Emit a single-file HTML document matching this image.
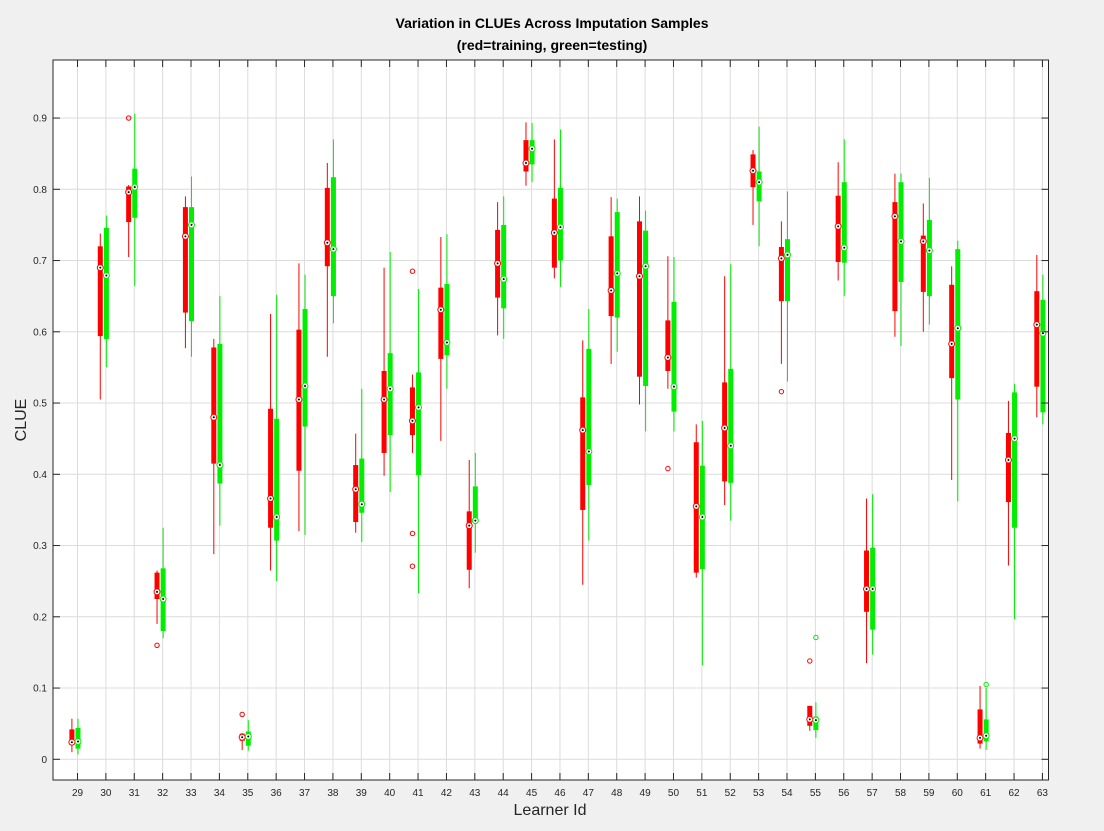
<!DOCTYPE html>
<html><head><meta charset="utf-8"><style>
body{margin:0;background:#f0f0f0;font-family:"Liberation Sans",sans-serif}
svg{display:block}
</style></head><body>
<svg width="1104" height="831" xmlns="http://www.w3.org/2000/svg" id="chart">
<rect width="1104" height="831" fill="#f0f0f0"/>
<text x="552" y="28" text-anchor="middle" font-size="14" font-weight="bold" fill="#000">Variation in CLUEs Across Imputation Samples</text>
<text x="552" y="50" text-anchor="middle" font-size="14" font-weight="bold" fill="#000">(red=training, green=testing)</text>
<rect x="53" y="60" width="995.5" height="720" fill="#fff"/>
<g id="grid"></g>
<g id="marks"></g>
<rect x="53" y="60" width="995.5" height="720" fill="none" stroke="#262626" stroke-width="1"/>
<g id="axes"></g>
<text x="26" y="420" text-anchor="middle" font-size="16" fill="#262626" transform="rotate(-90 26 420)">CLUE</text>
<text x="550" y="815" text-anchor="middle" font-size="16" fill="#262626">Learner Id</text>
</svg>
<script>
const learners=[29,30,31,32,33,34,35,36,37,38,39,40,41,42,43,44,45,46,47,48,49,50,51,52,53,54,55,56,57,58,59,60,61,62,63];
// [whiskerLow, q1, median, q3, whiskerHigh]
const trainStats=[
[0.01,0.02,0.024,0.042,0.057],[0.505,0.594,0.69,0.72,0.738],[0.705,0.754,0.796,0.804,0.806],[0.19,0.225,0.235,0.262,0.265],
[0.577,0.627,0.734,0.775,0.79],[0.288,0.415,0.48,0.578,0.59],[0.013,0.026,0.031,0.036,0.037],[0.265,0.325,0.366,0.492,0.625],
[0.32,0.405,0.505,0.603,0.696],[0.565,0.692,0.725,0.802,0.837],[0.318,0.333,0.379,0.413,0.457],[0.398,0.43,0.505,0.545,0.69],
[0.43,0.455,0.475,0.522,0.54],[0.447,0.562,0.631,0.662,0.733],[0.24,0.266,0.328,0.348,0.42],[0.595,0.648,0.696,0.743,0.782],
[0.805,0.825,0.837,0.869,0.894],[0.675,0.69,0.739,0.787,0.87],[0.245,0.35,0.462,0.508,0.588],[0.555,0.622,0.658,0.734,0.789],
[0.498,0.537,0.678,0.755,0.79],[0.52,0.545,0.564,0.616,0.706],[0.255,0.262,0.355,0.445,0.47],[0.357,0.39,0.465,0.529,0.678],
[0.75,0.803,0.826,0.849,0.855],[0.555,0.643,0.703,0.719,0.755],[0.04,0.047,0.056,0.075,0.075],[0.672,0.698,0.748,0.791,0.838],
[0.135,0.207,0.239,0.293,0.366],[0.593,0.629,0.762,0.782,0.822],[0.6,0.656,0.727,0.735,0.78],[0.392,0.535,0.583,0.666,0.692],
[0.015,0.022,0.03,0.07,0.103],[0.272,0.361,0.42,0.458,0.503],[0.48,0.523,0.61,0.657,0.708]];
const testStats=[
[0.007,0.015,0.025,0.044,0.057],[0.55,0.59,0.679,0.746,0.763],[0.664,0.76,0.803,0.829,0.906],[0.17,0.18,0.225,0.268,0.325],
[0.565,0.615,0.75,0.775,0.818],[0.328,0.387,0.413,0.583,0.65],[0.012,0.019,0.032,0.039,0.055],[0.25,0.307,0.34,0.478,0.652],
[0.315,0.467,0.524,0.632,0.68],[0.612,0.65,0.716,0.817,0.87],[0.305,0.346,0.358,0.422,0.52],[0.375,0.455,0.52,0.57,0.712],
[0.233,0.399,0.494,0.543,0.66],[0.52,0.567,0.585,0.667,0.737],[0.29,0.333,0.335,0.383,0.43],[0.59,0.633,0.674,0.75,0.79],
[0.81,0.835,0.857,0.869,0.893],[0.663,0.7,0.747,0.802,0.884],[0.307,0.385,0.432,0.576,0.632],[0.572,0.62,0.682,0.768,0.787],
[0.46,0.524,0.692,0.742,0.77],[0.46,0.488,0.523,0.642,0.705],[0.132,0.267,0.34,0.412,0.475],[0.335,0.388,0.44,0.548,0.695],
[0.72,0.783,0.81,0.825,0.888],[0.53,0.643,0.708,0.73,0.797],[0.03,0.041,0.055,0.06,0.08],[0.65,0.697,0.718,0.81,0.87],
[0.147,0.182,0.239,0.297,0.372],[0.58,0.67,0.727,0.81,0.822],[0.61,0.65,0.714,0.757,0.816],[0.362,0.505,0.605,0.716,0.728],
[0.013,0.025,0.033,0.056,0.1],[0.197,0.325,0.45,0.515,0.527],[0.47,0.487,0.598,0.645,0.68]];
const trainOutlierIds=[31,32,35,41,41,41,50,54,55];
const trainOutlierVals=[0.9,0.16,0.063,0.685,0.317,0.271,0.408,0.516,0.138];
const testOutlierIds=[55,61];
const testOutlierVals=[0.171,0.105];
const yTicks=[0,0.1,0.2,0.3,0.4,0.5,0.6,0.7,0.8,0.9];

const NS="http://www.w3.org/2000/svg";
function xS(id){return 77.5+(id-29)*28.38;}
function yS(v){return 759.3-v*712.5;}
function mk(tag,attrs,parent){const e=document.createElementNS(NS,tag);for(const k in attrs)e.setAttribute(k,attrs[k]);parent.appendChild(e);return e;}
const grid=document.getElementById('grid'),marks=document.getElementById('marks'),axes=document.getElementById('axes');
yTicks.forEach(t=>{
  const y=yS(t);
  const g=mk('line',{x1:53,x2:1048.5,y1:y,y2:y,stroke:'#dcdcdc','stroke-width':1},grid);
  
  
  const tk=mk('line',{x1:53,x2:60,y1:y,y2:y,stroke:'#262626'},axes);
  
  
  const tk2=mk('line',{x1:1041.5,x2:1048.5,y1:y,y2:y,stroke:'#262626'},axes);
  
  
  const lb=mk('text',{x:47,y:y+3.5,'text-anchor':'end','font-size':10,fill:'#262626'},axes);
  lb.textContent=String(t);
  
  
});
learners.forEach(id=>{
  const x=xS(id);
  const g=mk('line',{x1:x,x2:x,y1:60,y2:780,stroke:'#dcdcdc','stroke-width':1},grid);
  
  
  const tk=mk('line',{x1:x,x2:x,y1:773,y2:780,stroke:'#262626'},axes);
  
  
  const tk2=mk('line',{x1:x,x2:x,y1:60,y2:67,stroke:'#262626'},axes);
  
  
  const lb=mk('text',{x:x,y:796,'text-anchor':'middle','font-size':10,fill:'#262626'},axes);
  lb.textContent=String(id);
  
  
});
function drawBox(cx,s,color,name){
  const w=mk('line',{x1:cx,x2:cx,y1:yS(s[0]),y2:yS(s[4]),stroke:color,'stroke-width':1},marks);
  
  
  const b=mk('rect',{x:cx-2.5,y:yS(s[3]),width:5,height:Math.max(1,yS(s[1])-yS(s[3])),fill:color},marks);
  
  
  const m=mk('circle',{cx:cx,cy:yS(s[2]),r:3,fill:'#fff',stroke:color,'stroke-width':1},marks);
  
  
  const d=mk('circle',{cx:cx,cy:yS(s[2]),r:1,fill:'#000'},marks);
  
  
}
learners.forEach((id,i)=>{
  drawBox(xS(id)-5.6,trainStats[i],'#ff0000','train-'+id);
  drawBox(xS(id)+0.5,testStats[i],'#00ee00','test-'+id);
});
trainOutlierIds.forEach((id,i)=>{
  const o=mk('circle',{cx:xS(id)-5.6,cy:yS(trainOutlierVals[i]),r:2.2,fill:'none',stroke:'#ff0000','stroke-width':1},marks);
  
  
});
testOutlierIds.forEach((id,i)=>{
  const o=mk('circle',{cx:xS(id)+0.5,cy:yS(testOutlierVals[i]),r:2.2,fill:'none',stroke:'#00ee00','stroke-width':1},marks);
  
  
});
</script>
</body></html>
